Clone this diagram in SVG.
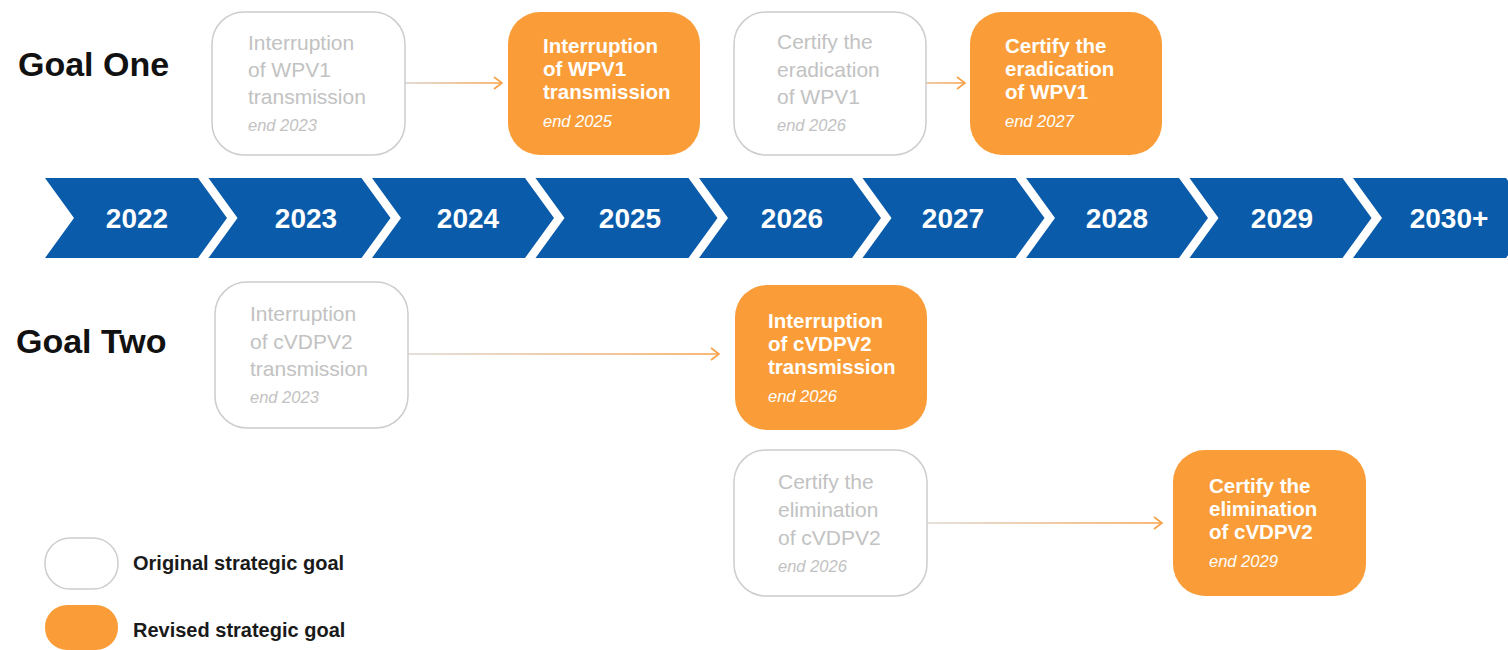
<svg xmlns="http://www.w3.org/2000/svg" xmlns:xlink="http://www.w3.org/1999/xlink" width="1508" height="650" viewBox="0 0 1508 650">
<style>
.goal{font-family:"Liberation Sans",Arial,sans-serif;font-weight:bold;font-size:34px;fill:#111}
.year{font-family:"Liberation Sans",Arial,sans-serif;font-weight:bold;font-size:28px;fill:#fff;text-anchor:middle}
.chev{fill:#0a5baa}
.orig rect{fill:#fff;stroke:#cdcdcd;stroke-width:1.5}
.orig text{font-family:"Liberation Sans",Arial,sans-serif;font-size:21px;fill:#c2c2c2}
.rev rect{fill:#fa9d38}
.rev text{font-family:"Liberation Sans",Arial,sans-serif;font-weight:bold;font-size:20.5px;fill:#fff}
text.date{font-style:italic;font-weight:normal;font-size:16.5px}
.conn{fill:none;stroke-width:1.6;marker-end:url(#arr)}
.leg{font-family:"Liberation Sans",Arial,sans-serif;font-weight:bold;font-size:20px;fill:#1a1a1a}
</style>
<defs>
<polygon id="chevron" class="chev" points="0,178 153,178 182,218 153,258 0,258 29,218"/>
<marker id="arr" markerUnits="userSpaceOnUse" markerWidth="12" markerHeight="14" refX="9" refY="7" orient="auto">
<path d="M1,1 L9,7 L1,13" fill="none" stroke="#f7a048" stroke-width="1.6"/>
</marker>
<linearGradient id="g1" gradientUnits="userSpaceOnUse" x1="405" y1="0" x2="502" y2="0"><stop offset="0" stop-color="#d8cfc6"/><stop offset="1" stop-color="#f7a048"/></linearGradient>
<linearGradient id="g2" gradientUnits="userSpaceOnUse" x1="926" y1="0" x2="965" y2="0"><stop offset="0" stop-color="#e8b88a"/><stop offset="1" stop-color="#f7a048"/></linearGradient>
<linearGradient id="g3" gradientUnits="userSpaceOnUse" x1="408" y1="0" x2="719" y2="0"><stop offset="0" stop-color="#dcd6d0"/><stop offset="1" stop-color="#f7a048"/></linearGradient>
<linearGradient id="g4" gradientUnits="userSpaceOnUse" x1="927" y1="0" x2="1162" y2="0"><stop offset="0" stop-color="#dcd6d0"/><stop offset="1" stop-color="#f7a048"/></linearGradient>
</defs>

<g id="timeline">
<use xlink:href="#chevron" href="#chevron" x="45"/>
<use xlink:href="#chevron" href="#chevron" x="208.5"/>
<use xlink:href="#chevron" href="#chevron" x="372"/>
<use xlink:href="#chevron" href="#chevron" x="535.5"/>
<use xlink:href="#chevron" href="#chevron" x="699"/>
<use xlink:href="#chevron" href="#chevron" x="862.5"/>
<use xlink:href="#chevron" href="#chevron" x="1026"/>
<use xlink:href="#chevron" href="#chevron" x="1189.5"/>
<use xlink:href="#chevron" href="#chevron" x="1353"/>
<text class="year" x="137" y="228">2022</text>
<text class="year" x="306" y="228">2023</text>
<text class="year" x="468" y="228">2024</text>
<text class="year" x="630" y="228">2025</text>
<text class="year" x="792" y="228">2026</text>
<text class="year" x="953" y="228">2027</text>
<text class="year" x="1117" y="228">2028</text>
<text class="year" x="1282" y="228">2029</text>
<text class="year" x="1449" y="228">2030+</text>
</g>

<g id="goal-one-label"><text class="goal" x="18" y="76">Goal One</text></g>
<g id="goal-two-label"><text class="goal" x="16" y="353">Goal Two</text></g>

<g id="connectors">
<line class="conn" x1="405" y1="83" x2="502" y2="83" stroke="url(#g1)"/>
<line class="conn" x1="926" y1="83" x2="965" y2="83" stroke="url(#g2)"/>
<line class="conn" x1="408" y1="354" x2="719" y2="354" stroke="url(#g3)"/>
<line class="conn" x1="927" y1="523" x2="1162" y2="523" stroke="url(#g4)"/>
</g>

<g id="n1" class="orig">
<rect x="212" y="12" width="193" height="143" rx="32"/>
<text x="248" y="50">Interruption</text>
<text x="248" y="77">of WPV1</text>
<text x="248" y="104">transmission</text>
<text class="date" x="248" y="131">end 2023</text>
</g>
<g id="n2" class="rev">
<rect x="508" y="12" width="192" height="143" rx="32"/>
<text x="543" y="53">Interruption</text>
<text x="543" y="76">of WPV1</text>
<text x="543" y="99">transmission</text>
<text class="date" x="543" y="127">end 2025</text>
</g>
<g id="n3" class="orig">
<rect x="734" y="12" width="192" height="143" rx="32"/>
<text x="777" y="49">Certify the</text>
<text x="777" y="77">eradication</text>
<text x="777" y="104">of WPV1</text>
<text class="date" x="777" y="131">end 2026</text>
</g>
<g id="n4" class="rev">
<rect x="970" y="12" width="192" height="143" rx="32"/>
<text x="1005" y="53">Certify the</text>
<text x="1005" y="76">eradication</text>
<text x="1005" y="99">of WPV1</text>
<text class="date" x="1005" y="127">end 2027</text>
</g>

<g id="n5" class="orig">
<rect x="215" y="282" width="193" height="146" rx="32"/>
<text x="250" y="321">Interruption</text>
<text x="250" y="349">of cVDPV2</text>
<text x="250" y="376">transmission</text>
<text class="date" x="250" y="403">end 2023</text>
</g>
<g id="n6" class="rev">
<rect x="735" y="285" width="192" height="145" rx="32"/>
<text x="768" y="328">Interruption</text>
<text x="768" y="351">of cVDPV2</text>
<text x="768" y="374">transmission</text>
<text class="date" x="768" y="402">end 2026</text>
</g>
<g id="n7" class="orig">
<rect x="734" y="450" width="193" height="146" rx="32"/>
<text x="778" y="489">Certify the</text>
<text x="778" y="517">elimination</text>
<text x="778" y="545">of cVDPV2</text>
<text class="date" x="778" y="572">end 2026</text>
</g>
<g id="n8" class="rev">
<rect x="1173" y="450" width="193" height="146" rx="32"/>
<text x="1209" y="493">Certify the</text>
<text x="1209" y="516">elimination</text>
<text x="1209" y="539">of cVDPV2</text>
<text class="date" x="1209" y="567">end 2029</text>
</g>

<g id="legend">
<g class="orig"><rect x="45" y="538" width="73" height="51" rx="25"/></g>
<g class="rev"><rect x="45" y="605" width="73" height="45" rx="22"/></g>
<text class="leg" x="133" y="570">Original strategic goal</text>
<text class="leg" x="133" y="637">Revised strategic goal</text>
</g>
</svg>
